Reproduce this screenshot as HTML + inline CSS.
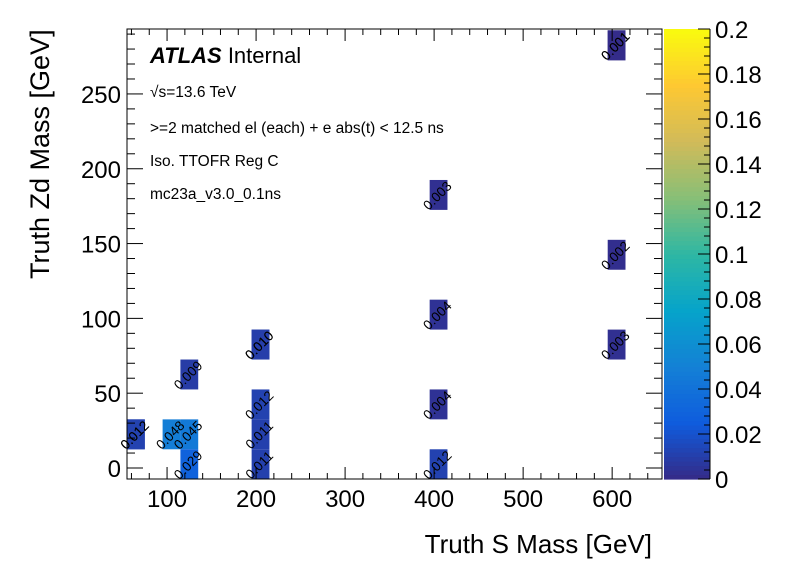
<!DOCTYPE html>
<html><head><meta charset="utf-8"><style>
html,body{margin:0;padding:0;background:#fff;}
svg{display:block;font-family:"Liberation Sans",sans-serif;}
</style></head><body>
<svg id="chart" width="796" height="572" viewBox="0 0 796 572" xmlns="http://www.w3.org/2000/svg">
<rect x="0" y="0" width="796" height="572" fill="#fff"/>
<g id="cells"></g>
<g id="axes"></g>
<g id="cbar"></g>
<text x="150" y="63" font-size="22"><tspan font-weight="bold" font-style="italic">ATLAS</tspan> Internal</text>
<text x="150" y="97" font-size="15.5">√s=13.6 TeV</text>
<text x="150" y="133" font-size="15.5">&gt;=2 matched el (each) + e abs(t) &lt; 12.5 ns</text>
<text x="150" y="166" font-size="15.5">Iso. TTOFR Reg C</text>
<text x="150" y="199" font-size="15.5">mc23a_v3.0_0.1ns</text>
<text x="652" y="553" font-size="26" text-anchor="end">Truth S Mass [GeV]</text>
<text transform="translate(49,279) rotate(-90)" font-size="27" text-anchor="start">Truth Zd Mass [GeV]</text>
</svg>
<script>
const xCenters=[65,105,125,125,125,65,205,205,205,205,205,405,405,405,405,605,605,605,605];
const yCenters=[22.5,22.5,22.5,2.5,62.5,22.5,2.5,22.5,42.5,82.5,82.5,2.5,42.5,102.5,182.5,82.5,142.5,282.5,282.5];
const values=[0.012,0.048,0.045,0.029,0.009,0.012,0.011,0.011,0.012,0.010,0.010,0.012,0.004,0.004,0.003,0.003,0.002,0.001,0.001];
const xTicks=[100,200,300,400,500,600];
const yTicks=[0,50,100,150,200,250];
const zTicks=[0,0.02,0.04,0.06,0.08,0.1,0.12,0.14,0.16,0.18,0.2];
const zTickLabels=["0","0.02","0.04","0.06","0.08","0.1","0.12","0.14","0.16","0.18","0.2"];

const NS="http://www.w3.org/2000/svg";
const PL=127,PR=662,PT=29,PB=479;
const XMIN=55,XMAX=656,YMIN=-7.35,YMAX=293.4,ZMAX=0.2;
const xs=v=>PL+(v-XMIN)/(XMAX-XMIN)*(PR-PL);
const ys=v=>PB-(v-YMIN)/(YMAX-YMIN)*(PB-PT);
const CBL=664,CBR=710;
const zs=v=>PB-v/ZMAX*(PB-PT);
const R=[0.2082,0.0592,0.0780,0.0232,0.1802,0.5301,0.8186,0.9956,0.9764];
const G=[0.1664,0.3599,0.5041,0.6419,0.7178,0.7492,0.7328,0.7862,0.9832];
const B=[0.5293,0.8684,0.8385,0.7914,0.6425,0.4662,0.3499,0.1968,0.0539];
function col(v){let t=Math.max(0,Math.min(1,v/ZMAX))*8;let i=Math.min(7,Math.floor(t));let f=t-i;
 const c=a=>Math.round(255*(a[i]+(a[i+1]-a[i])*f));return `rgb(${c(R)},${c(G)},${c(B)})`;}
function mk(tag,attrs,parent){const e=document.createElementNS(NS,tag);for(const k in attrs)e.setAttribute(k,attrs[k]);parent.appendChild(e);return e;}
const cells=document.getElementById('cells');
for(let i=0;i<values.length;i++){
 const x0=xs(xCenters[i]-10),x1=xs(xCenters[i]+10),y0=ys(yCenters[i]+10),y1=ys(yCenters[i]-10);
 const r=mk('rect',{x:x0,y:y0,width:x1-x0,height:y1-y0,fill:col(values[i])},cells);
 
 
}
for(let i=0;i<values.length;i++){
 const cx=xs(xCenters[i]),cy=ys(yCenters[i]);
 const t=mk('text',{transform:`translate(${cx+2},${cy+4}) rotate(-45)`,'font-size':13.5,'text-anchor':'middle',fill:'#000'},cells);
 t.textContent=values[i].toFixed(3);
 
 
}
const ax=document.getElementById('axes');
mk('rect',{x:PL,y:PT,width:PR-PL,height:PB-PT,fill:'none',stroke:'#000','stroke-width':1},ax);
for(let v=60;v<=XMAX;v+=20){const x=xs(v);const maj=v%100===0;const L=maj?12:6;
 mk('line',{x1:x,y1:PB,x2:x,y2:PB-L,stroke:'#000'},ax);mk('line',{x1:x,y1:PT,x2:x,y2:PT+L,stroke:'#000'},ax);}
for(let v=0;v<=YMAX;v+=10){const y=ys(v);const maj=v%50===0;const L=maj?16:8;
 mk('line',{x1:PL,y1:y,x2:PL+L,y2:y,stroke:'#000'},ax);mk('line',{x1:PR,y1:y,x2:PR-L,y2:y,stroke:'#000'},ax);}
xTicks.forEach(v=>{const t=mk('text',{x:xs(v),y:507,'font-size':24,'text-anchor':'middle'},ax);t.textContent=v;
 
 });
yTicks.forEach(v=>{const t=mk('text',{x:121,y:ys(v)+9,'font-size':24,'text-anchor':'end'},ax);t.textContent=v;
 
 });
const cb=document.getElementById('cbar');
const N=100;for(let k=0;k<N;k++){const v0=k/N*ZMAX,v1=(k+1)/N*ZMAX;
 mk('rect',{x:CBL,y:zs(v1),width:CBR-CBL,height:zs(v0)-zs(v1)+0.6,fill:col((v0+v1)/2)},cb);}
mk('line',{x1:CBR,y1:PT,x2:CBR,y2:PB,stroke:'#000'},cb);
for(let v=0;v<=0.2001;v+=0.004){const y=zs(v);const maj=Math.abs(v*50-Math.round(v*50))<1e-6;mk('line',{x1:CBR,y1:y,x2:CBR-(maj?12:6),y2:y,stroke:'#000'},cb);}
zTicks.forEach((v,i)=>{const t=mk('text',{x:715,y:zs(v)+9,'font-size':24},cb);t.textContent=zTickLabels[i];
 
 });
</script>
</body></html>
